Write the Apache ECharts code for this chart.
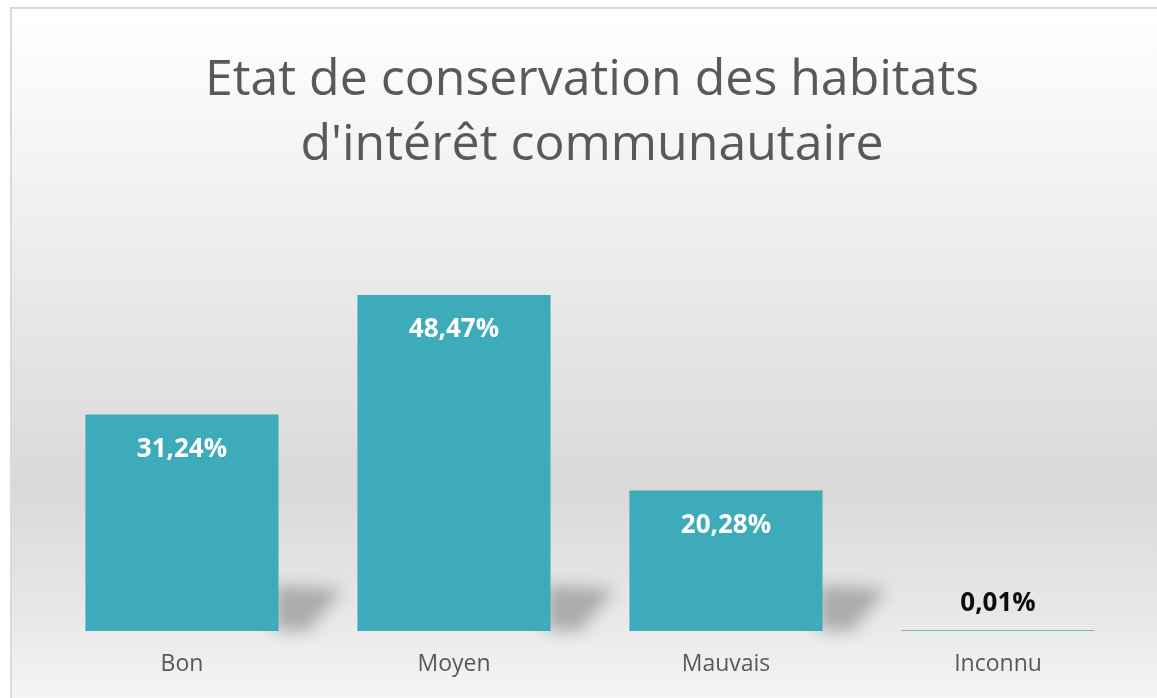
<!DOCTYPE html>
<html>
<head>
<meta charset="utf-8">
<script src="https://cdn.jsdelivr.net/npm/echarts@6/dist/echarts.min.js"></script>
<style>
html,body{margin:0;padding:0;background:#fff;width:1157px;height:698px;overflow:hidden;}
#c{position:absolute;left:10px;top:7px;width:1160px;height:700px;border:2px solid #d9d9d9;}
</style>
</head>
<body>
<div id="c"></div>
<script>
const titleText = "Etat de conservation des habitats\nd'intérêt communautaire";
const categories = ["Bon", "Moyen", "Mauvais", "Inconnu"];
const values = [31.24, 48.47, 20.28, 0.01];

const fmt = v => v.toFixed(2).replace('.', ',') + '%';

const chart = echarts.init(document.getElementById('c'));

const barData = values.map(v => {
  if (v < 5) {
    return {
      value: v,
      label: { position: 'top', distance: 13, color: '#0d0d0d' },
      itemStyle: { color: '#7fb3be' }
    };
  }
  return v;
});

chart.setOption({
  backgroundColor: {
    type: 'linear', x: 0, y: 0, x2: 0, y2: 1,
    colorStops: [
      { offset: 0, color: '#ffffff' },
      { offset: 0.28, color: '#f0f0f0' },
      { offset: 0.68, color: '#d9d9d9' },
      { offset: 0.88, color: '#e9e9e9' },
      { offset: 1, color: '#f7f7f7' }
    ]
  },
  animation: false,
  title: {
    text: titleText,
    left: 'center',
    top: 34,
    textStyle: {
      fontFamily: 'Open Sans',
      fontWeight: 'normal',
      fontSize: 50,
      lineHeight: 65,
      color: '#595959'
    }
  },
  grid: { left: 34, width: 1088, top: 275.4, height: 346.6 },
  xAxis: {
    type: 'category',
    data: categories,
    axisLine: { show: false },
    axisTick: { show: false },
    axisLabel: {
      margin: 22,
      fontFamily: 'Open Sans',
      fontSize: 23,
      color: '#595959'
    }
  },
  yAxis: {
    type: 'value',
    min: 0,
    max: 50,
    show: false,
    splitLine: { show: false }
  },
  series: [
    {
      type: 'custom',
      silent: true,
      z: 1,
      data: values.map((v, i) => [i, v]),
      renderItem: function (params, api) {
        const idx = api.value(0);
        const base = api.coord([idx, 0]);
        const top = api.coord([idx, api.value(1)]);
        const bw = api.size([1, 0])[0] * 0.71;
        const h = base[1] - top[1];
        const sh = Math.min(50, h);
        if (sh < 3) return null;
        const xr = base[0] + bw / 2;
        const yb = base[1];
        const off = 3000;
        return {
          type: 'polygon',
          shape: {
            points: [
              [xr - 4 - off, yb],
              [xr - 4 - off, yb - sh + 4],
              [xr + 64 - off, yb - sh + 8],
              [xr + 30 - off, yb]
            ]
          },
          style: {
            fill: 'rgba(0,0,0,1)',
            shadowBlur: 16,
            shadowColor: 'rgba(0,0,0,0.26)',
            shadowOffsetX: off,
            shadowOffsetY: 0
          }
        };
      }
    },
    {
      type: 'bar',
      z: 2,
      data: barData,
      barWidth: '71%',
      barMinHeight: 1,
      itemStyle: { color: '#3eabbb' },
      label: {
        show: true,
        position: 'insideTop',
        distance: 22,
        fontFamily: 'Open Sans',
        fontWeight: 'bold',
        fontSize: 26,
        color: '#ffffff',
        formatter: p => fmt(p.value)
      }
    }
  ]
});
</script>
</body>
</html>
